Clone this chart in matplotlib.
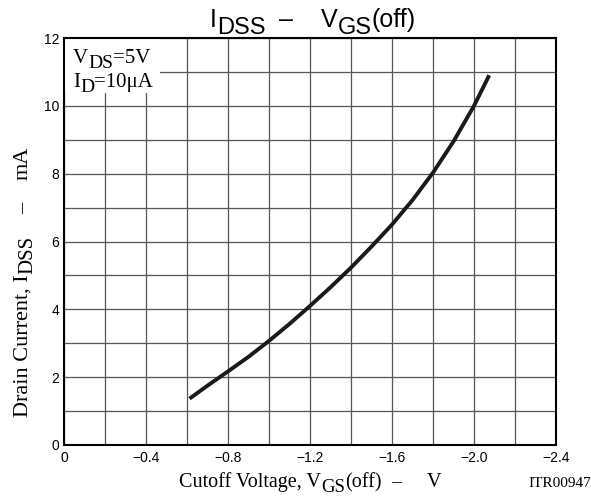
import matplotlib
matplotlib.use("Agg")
import matplotlib.pyplot as plt
from matplotlib.patches import Rectangle

# curve
vgs_off = [-0.62, -0.7, -0.8, -0.9, -1.0, -1.1, -1.2, -1.3, -1.4, -1.5,
           -1.6, -1.7, -1.8, -1.9, -2.0, -2.07]
idss = [1.4, 1.75, 2.17, 2.6, 3.07, 3.57, 4.1, 4.65, 5.23, 5.85,
        6.5, 7.22, 8.03, 8.95, 10.0, 10.85]

x_ticks = [0, -0.4, -0.8, -1.2, -1.6, -2.0, -2.4]
x_labels = ["0", "\u22120.4", "\u22120.8", "\u22121.2", "\u22121.6", "\u22122.0", "\u22122.4"]
y_ticks = [0, 2, 4, 6, 8, 10, 12]

# text pieces: (string, is_subscript)
title_parts = [("I", 0), ("DSS", 1), ("  ", 0), ("\u2013", 0), ("    ", 0),
               ("V", 0), ("GS", 1), ("(off)", 0)]
xlabel_parts = [("Cutoff Voltage, V", 0), ("GS", 1), ("(off)", 0), ("  ", 0),
                ("\u2013", 0), ("     ", 0), ("V", 0)]
ylabel_parts = [("Drain Current, I", 0), ("DSS", 1), ("    ", 0), ("\u2013", 0),
                ("    ", 0), ("mA", 0)]
cond1_parts = [("V", 0), ("DS", 1), ("=5V", 0)]
cond2_parts = [("I", 0), ("D", 1), ("=10\u03bcA", 0)]

sans = "Liberation Sans"
serif = "Liberation Serif"
W, H = 591, 499

fig = plt.figure(figsize=(W / 100, H / 100), dpi=100)
ax = fig.add_axes([64 / W, 1 - 445 / H, 492 / W, 407 / H])
renderer = fig.canvas.get_renderer()


def text_width(s, size, family):
    a = fig.text(0, 0, "|" + s + "|", fontsize=size, fontfamily=family)
    b = fig.text(0, 0, "||", fontsize=size, fontfamily=family)
    w = a.get_window_extent(renderer).width - b.get_window_extent(renderer).width
    a.remove()
    b.remove()
    return w


def rich_text(parts, x, y, size, sub_size, drop, family, align="center", vertical=False):
    # x, y in pixels from bottom-left; y (or x if vertical) is the baseline
    widths = [text_width(s, sub_size if sub else size, family) for s, sub in parts]
    start = (y if vertical else x)
    if align == "center":
        start -= sum(widths) / 2
    pos = start
    for (s, sub), w in zip(parts, widths):
        if s.strip():
            fs = sub_size if sub else size
            if vertical:
                fig.text((x + (drop if sub else 0)) / W, pos / H, s, rotation=90,
                         rotation_mode="anchor", ha="left", va="baseline",
                         fontsize=fs, fontfamily=family)
            else:
                fig.text(pos / W, (y - (drop if sub else 0)) / H, s, ha="left",
                         va="baseline", fontsize=fs, fontfamily=family, zorder=5)
        pos += w


ax.set_xlim(0, -2.4)
ax.set_ylim(0, 12)
ax.set_xticks([-0.2 * i for i in range(13)], minor=True)
ax.set_yticks(range(13), minor=True)
ax.set_xticks(x_ticks)
ax.set_xticklabels(x_labels, fontfamily=sans, fontsize=10)
ax.set_yticks(y_ticks)
ax.set_yticklabels([str(v) for v in y_ticks], fontfamily=sans, fontsize=10)
ax.tick_params(which="both", length=0)
ax.tick_params(axis="x", pad=4.5)
ax.tick_params(axis="y", pad=3.5)
ax.grid(which="both", color="#555555", linewidth=0.9)
ax.set_axisbelow(True)
for s in ax.spines.values():
    s.set_linewidth(1.5)

ax.plot(vgs_off, idss, color="#1a1a1a", linewidth=2.8, zorder=3)

# white box behind the conditions text
ax.add_patch(Rectangle((0, 0.865), 0.195, 0.135, transform=ax.transAxes,
                       facecolor="white", edgecolor="none", zorder=2))

rich_text(cond1_parts, 73, H - 63, 15, 14, 4.5, serif, align="left")
rich_text(cond2_parts, 73, H - 87, 15, 14, 4.5, serif, align="left")
rich_text(title_parts, 313, H - 27, 18, 17, 6.5, sans)
rich_text(xlabel_parts, 310, H - 487, 14.5, 13.5, 4.5, serif)
rich_text(ylabel_parts, 28, H - 282, 16, 15, 4.5, serif, vertical=True)
fig.text(1.0, 1 - 487 / H, "ITR00947", fontfamily=serif, fontsize=11,
         ha="right", va="baseline")

fig.savefig("out.png", dpi=100)
